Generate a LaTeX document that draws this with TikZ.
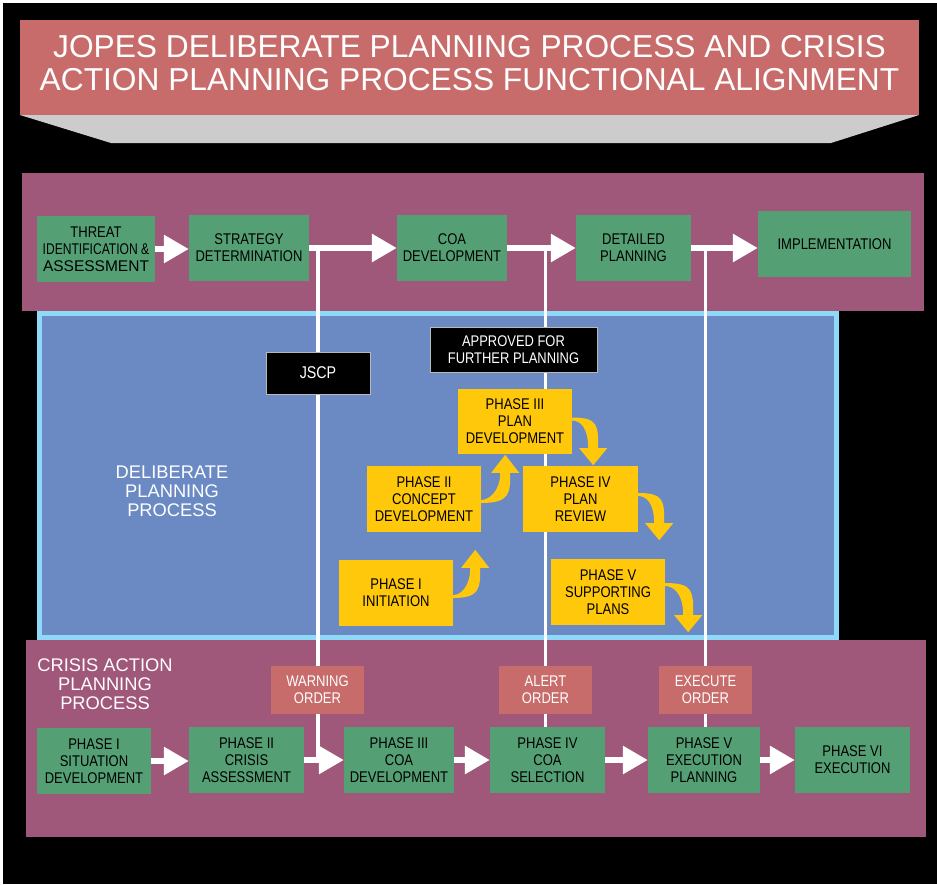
\documentclass[tikz,border=0pt]{standalone}
\usepackage{fontspec}
\setmainfont{Liberation Sans}
\newfontfamily\narrowfont[FakeStretch=0.84]{Liberation Sans}
\newfontfamily\narrowerfont[FakeStretch=0.78]{Liberation Sans}
\usetikzlibrary{arrows.meta,calc}
\definecolor{bandpurple}{RGB}{160,88,122}
\definecolor{titlered}{RGB}{199,108,106}
\definecolor{capgreen}{RGB}{84,160,116}
\definecolor{delblue}{RGB}{107,138,196}
\definecolor{edgeblue}{RGB}{142,216,248}
\definecolor{phaseyellow}{RGB}{255,200,10}
\definecolor{shadegray}{RGB}{204,204,204}
\pgfdeclarelayer{back}
\pgfdeclarelayer{lines}
\pgfsetlayers{back,lines,main}
\newcommand{\boxfont}{\narrowfont\fontsize{15.5}{17}\selectfont}
\newcommand{\curlup}[2]{%
\fill[phaseyellow] let \p1=(#1), \p2=(#2) in
  (\x1,\y1) .. controls (\x2+5pt,\y1) and (\x2+5pt,\y1+10pt) .. (\x2+5pt,\y2-18pt)
  -- (\x2+14pt,\y2-18pt) -- (\x2,\y2) -- (\x2-14pt,\y2-18pt) -- (\x2-5pt,\y2-18pt)
  .. controls (\x2-5pt,\y1+12pt) and (\x1+8pt,\y1+3pt) .. (\x1,\y1+3pt) -- cycle;}
\newcommand{\curldown}[2]{%
\fill[phaseyellow] let \p1=(#1), \p2=(#2) in
  (\x1,\y1) .. controls (\x2+5pt,\y1) and (\x2+5pt,\y1-8pt) .. (\x2+5pt,\y2+17pt)
  -- (\x2+14pt,\y2+17pt) -- (\x2,\y2) -- (\x2-14pt,\y2+17pt) -- (\x2-5pt,\y2+17pt)
  .. controls (\x2-5pt,\y1-10pt) and (\x1+8pt,\y1-3pt) .. (\x1,\y1-3pt) -- cycle;}

\begin{document}
\begin{tikzpicture}[x=1pt, y=-1pt,
  greenbox/.style={fill=capgreen, minimum height=66pt, inner sep=0pt, align=center, font=\boxfont},
  phasebox/.style={fill=phaseyellow, minimum width=114pt, minimum height=66pt, inner sep=0pt, align=center, font=\boxfont},
  orderbox/.style={fill=titlered, text=white, minimum width=93pt, minimum height=48pt, inner sep=0pt, align=center, font=\boxfont},
  blackbox/.style={fill=black, draw=gray!55, line width=1pt, text=white, inner sep=0pt, align=center},
  biglabel/.style={text=white, align=center, font=\fontsize{18.3}{19}\selectfont},
  blockarrow/.style={draw=white, line width=6pt, -{Triangle[length=25pt, width=27pt]}},
  vline/.style={draw=white, line width=3.5pt}]
\useasboundingbox (0,0) rectangle (937,884);

\begin{pgfonlayer}{back}
\fill[white] (0,0) rectangle (937,884);
\fill[black] (3,3) rectangle (937,884);
\fill[titlered] (20,20) rectangle (919,115);
\fill[shadegray] (20,115) -- (919,115) -- (831,143) -- (111,143) -- cycle;
\fill[bandpurple] (22,173) rectangle (924,311);
\fill[bandpurple] (26,640) rectangle (926,837);
\draw[edgeblue, line width=5pt, fill=delblue] (39.5,313.5) rectangle (836.5,637.5);
\end{pgfonlayer}

\node[text=white, align=center, font=\fontsize{31.7}{33}\selectfont] (title) at (469.5,63)
  {JOPES DELIBERATE PLANNING PROCESS AND CRISIS\\ACTION PLANNING PROCESS FUNCTIONAL ALIGNMENT};

\node[greenbox, minimum width=118pt] (threat) at (96,249)
  {{\narrowfont THREAT}\\{\narrowerfont IDENTIFICATION \&}\\{\rmfamily ASSESSMENT}};
\node[greenbox, minimum width=120pt] (strat) at (249,248) {STRATEGY\\DETERMINATION};
\node[greenbox, minimum width=110pt] (coa) at (452,248) {COA\\DEVELOPMENT};
\node[greenbox, minimum width=115pt] (detail) at (633.5,248) {DETAILED\\PLANNING};
\node[greenbox, minimum width=153pt] (impl) at (834.5,244) {IMPLEMENTATION};

\node[biglabel] (delib) at (172,491) {DELIBERATE\\PLANNING\\PROCESS};
\node[blackbox, minimum width=104pt, minimum height=42pt, font=\narrowfont\fontsize{17}{18}\selectfont] (jscp) at (318,373) {JSCP};
\node[blackbox, minimum width=167pt, minimum height=45pt, font=\narrowfont\fontsize{15.4}{16.7}\selectfont] (approved) at (513.5,349.5)
  {APPROVED FOR\\FURTHER PLANNING};

\node[phasebox, minimum height=65pt] (ph3) at (515,421.5) {PHASE III\\PLAN\\DEVELOPMENT};
\node[phasebox] (ph2) at (424,499) {PHASE II\\CONCEPT\\DEVELOPMENT};
\node[phasebox, minimum width=115pt] (ph4) at (580.5,499) {PHASE IV\\PLAN\\REVIEW};
\node[phasebox] (ph1) at (396,593) {PHASE I\\INITIATION};
\node[phasebox] (ph5) at (608,592) {PHASE V\\SUPPORTING\\PLANS};

\curlup{$(ph1.east)+(0,5)$}{$(ph1.north east)+(22,-10)$}
\curlup{$(ph2.east)+(0,4)$}{$(ph2.north east)+(24,-11)$}
\curldown{$(ph3.east)+(0,-4)$}{$(ph3.south east)+(21,11)$}
\curldown{$(ph4.east)+(0,-6)$}{$(ph4.south east)+(21,8)$}
\curldown{$(ph5.east)+(0,-9)$}{$(ph5.south east)+(23,7)$}

\node[biglabel] (crisis) at (105,684) {CRISIS ACTION\\PLANNING\\PROCESS};
\node[orderbox] (warn) at (317.5,690) {WARNING\\ORDER};
\node[orderbox] (alert) at (545.5,690) {ALERT\\ORDER};
\node[orderbox] (exec) at (705.5,690) {EXECUTE\\ORDER};

\node[greenbox, minimum width=114pt] (cap1) at (94,761) {PHASE I\\SITUATION\\DEVELOPMENT};
\node[greenbox, minimum width=115pt] (cap2) at (246.5,760) {PHASE II\\CRISIS\\ASSESSMENT};
\node[greenbox, minimum width=110pt] (cap3) at (399,760) {PHASE III\\COA\\DEVELOPMENT};
\node[greenbox, minimum width=115pt] (cap4) at (547.5,760) {PHASE IV\\COA\\SELECTION};
\node[greenbox, minimum width=112pt] (cap5) at (704,760) {PHASE V\\EXECUTION\\PLANNING};
\node[greenbox, minimum width=115pt] (cap6) at (852.5,760) {PHASE VI\\EXECUTION};

\begin{pgfonlayer}{lines}
\draw[vline] (jscp |- strat.east) -- (jscp |- cap2.east);
\draw[vline] (alert |- strat.east) -- (alert |- cap4.north);
\draw[vline] (exec |- strat.east) -- (exec |- cap5.north);
\end{pgfonlayer}

\foreach \a/\b in {threat/strat, strat/coa, coa/detail, detail/impl}
\draw[blockarrow] (\a.east) -- (\a.east -| \b.west);
\foreach \a/\b in {cap1/cap2, cap2/cap3, cap3/cap4, cap4/cap5, cap5/cap6}
\draw[blockarrow] (\a.east) -- (\a.east -| \b.west);
\end{tikzpicture}
\end{document}
